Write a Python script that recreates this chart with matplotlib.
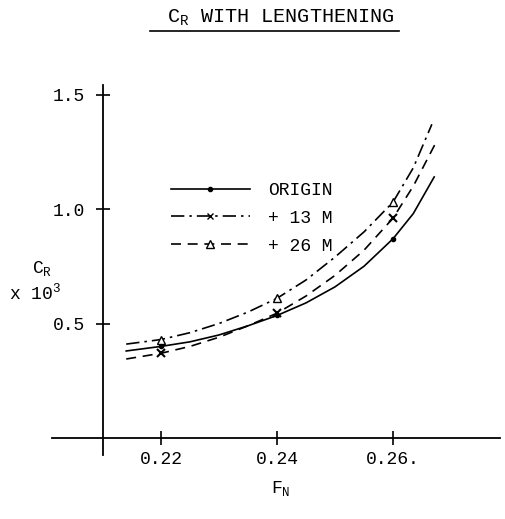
import matplotlib
matplotlib.use("Agg")
import matplotlib.pyplot as plt
from matplotlib.lines import Line2D

plt.rcParams['font.family'] = ['Liberation Mono', 'DejaVu Sans Mono']
plt.rcParams['mathtext.fontset'] = 'custom'
plt.rcParams['mathtext.rm'] = 'Liberation Mono'
plt.rcParams['mathtext.it'] = 'Liberation Mono'

# valeurs (Fn, Cr x 10^3)
fn_origin = [0.214, 0.22, 0.225, 0.23, 0.235, 0.24, 0.245, 0.25, 0.255, 0.26, 0.2635, 0.2671]
cr_origin = [0.38, 0.40, 0.42, 0.45, 0.49, 0.535, 0.59, 0.66, 0.75, 0.87, 0.98, 1.14]
fn_13m = [0.214, 0.22, 0.225, 0.23, 0.235, 0.24, 0.245, 0.25, 0.255, 0.26, 0.2635, 0.2667]
cr_13m = [0.41, 0.43, 0.46, 0.50, 0.55, 0.61, 0.69, 0.79, 0.90, 1.03, 1.18, 1.37]
fn_26m = [0.214, 0.22, 0.225, 0.23, 0.235, 0.24, 0.245, 0.25, 0.255, 0.26, 0.2635, 0.2676]
cr_26m = [0.345, 0.37, 0.40, 0.44, 0.49, 0.545, 0.62, 0.71, 0.82, 0.96, 1.10, 1.30]

# points de mesure
fn_points = [0.22, 0.24, 0.26]
pts_origin = [0.40, 0.535, 0.87]
pts_13m = [0.43, 0.61, 1.03]
pts_26m = [0.37, 0.545, 0.96]

x_ticks = [0.22, 0.24, 0.26]
x_labels = ["0.22", "0.24", "0.26."]
y_ticks = [0.5, 1.0, 1.5]
y_labels = ["0.5", "1.0", "1.5"]

fig = plt.figure(figsize=(5.05, 5.19), dpi=100)
ax = fig.add_axes([0, 0, 1, 1])
ax.set_xlim(0.19224, 0.27931)
ax.set_ylim(-0.3537, 1.9127)
ax.patch.set_alpha(0)

# courbes
ax.plot(fn_origin, cr_origin, '-', color='black', lw=1.2)
ax.plot(fn_13m, cr_13m, '-.', color='black', lw=1.2, dashes=(8, 3, 1.5, 3))
ax.plot(fn_26m, cr_26m, '--', color='black', lw=1.2, dashes=(6, 4))
ax.plot(fn_points, pts_origin, 'o', color='black', ms=3)
ax.plot(fn_points, pts_13m, '^', mfc='white', mec='black', ms=6)
ax.plot(fn_points, pts_26m, 'x', color='black', ms=6, mew=1.5)

# axes en croix
for s in ['top', 'right']:
    ax.spines[s].set_visible(False)
ax.spines['left'].set_position(('data', 0.21))
ax.spines['left'].set_bounds(-0.075, 1.54)
ax.spines['bottom'].set_position(('data', 0))
ax.spines['bottom'].set_bounds(0.2012, 0.2785)
ax.spines['left'].set_linewidth(1.3)
ax.spines['bottom'].set_linewidth(1.3)

ax.set_xticks(x_ticks)
ax.set_xticklabels(x_labels)
ax.set_yticks(y_ticks)
ax.set_yticklabels(y_labels)
ax.tick_params(axis='both', direction='inout', length=10, width=1.2, labelsize=13)
ax.tick_params(axis='x', pad=4)
ax.tick_params(axis='y', pad=8)

# legende
handles = [
    Line2D([], [], color='black', lw=1.2, marker='o', ms=3),
    Line2D([], [], color='black', lw=1.2, ls='-.', marker='x', ms=5, dashes=(8, 3, 1.5, 3)),
    Line2D([], [], color='black', lw=1.2, ls='--', marker='^', mfc='white', ms=6, dashes=(6, 4)),
]
fig.legend(handles, ["ORIGIN", "+ 13 M", "+ 26 M"], loc='upper left',
           bbox_to_anchor=(0.32, 0.667), frameon=False, fontsize=13,
           handlelength=4.4, handletextpad=1.0, labelspacing=0.6, borderpad=0)

# textes
fig.text(0.555, 0.965, r"C$_\mathrm{R}$ WITH LENGTHENING", ha='center', va='center', fontsize=14.5)
fig.add_artist(Line2D([0.297, 0.79], [0.94, 0.94], color='black', lw=1.2))
fig.text(0.083, 0.482, r"C$_\mathrm{R}$", ha='center', va='center', fontsize=13)
fig.text(0.07, 0.435, r"x 10$^3$", ha='center', va='center', fontsize=13)
fig.text(0.555, 0.058, r"F$_\mathrm{N}$", ha='center', va='center', fontsize=13)

fig.savefig("out.png", dpi=100)
